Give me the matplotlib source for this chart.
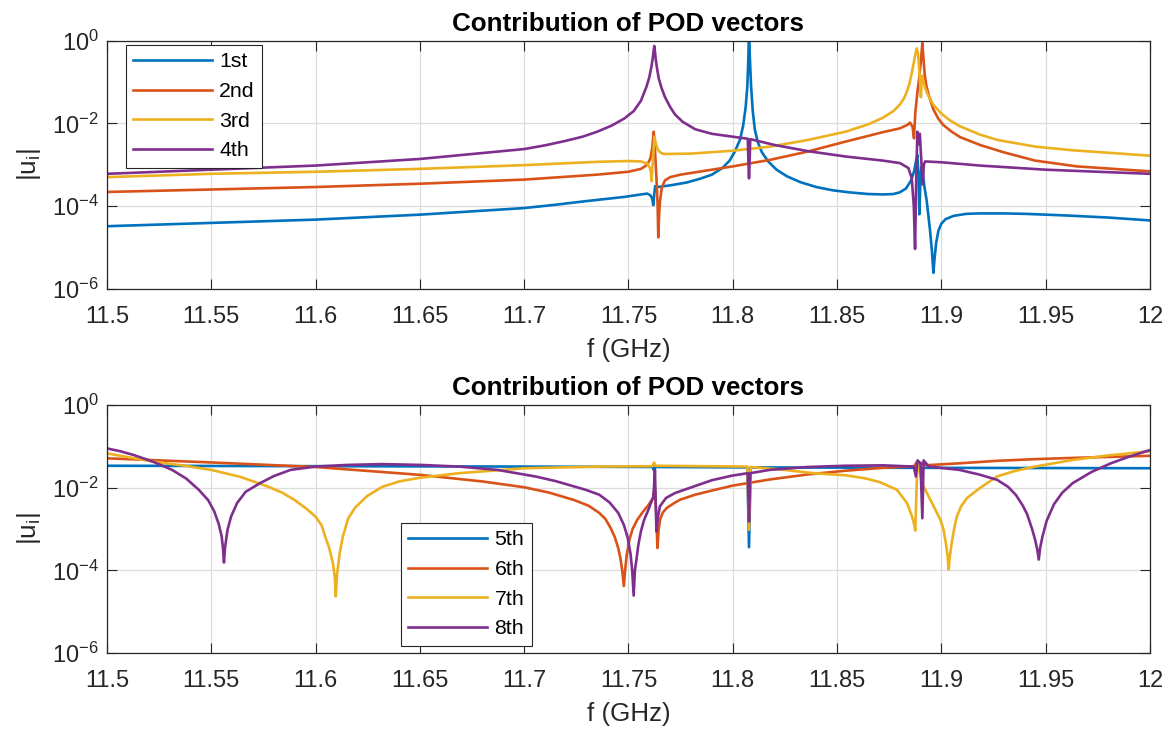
import matplotlib
matplotlib.use("Agg")
import matplotlib.pyplot as plt

plt.rcParams["font.family"] = "Liberation Sans"
plt.rcParams["mathtext.fontset"] = "custom"
plt.rcParams["mathtext.rm"] = "Liberation Sans"
plt.rcParams["mathtext.it"] = "Liberation Sans:italic"

# ====================================================================
# Data: frequency in GHz, and log10|u_i| as read
# on the decade axis (converted to |u_i| just before plotting)
# ====================================================================
f1 = [11.500, 11.550, 11.600, 11.650, 11.700, 11.715, 11.730, 11.748, 11.756, 11.759,
      11.7605, 11.7614, 11.7619, 11.7624, 11.7628, 11.7640, 11.7700, 11.7780, 11.7843, 11.7900,
      11.7950, 11.7985, 11.8010, 11.8035, 11.8050, 11.8062, 11.8070, 11.8075, 11.8078, 11.8082,
      11.8088, 11.8096, 11.8106, 11.8120, 11.8140, 11.8170, 11.8210, 11.8260, 11.8323, 11.8400,
      11.8480, 11.8560, 11.8650, 11.8720, 11.8770, 11.8800, 11.8830, 11.8855, 11.8870, 11.8880,
      11.8885, 11.8890, 11.8895, 11.8900, 11.8905, 11.8910, 11.8918, 11.8930, 11.8946, 11.8955,
      11.8962, 11.8967, 11.8975, 11.8986, 11.9000, 11.9020, 11.9058, 11.9120, 11.9185, 11.9300,
      11.9400, 11.9600, 11.9800, 12.0000]
lg1 = [-4.49, -4.41, -4.33, -4.21, -4.05, -3.97, -3.88, -3.78, -3.72, -3.70,
       -3.74, -3.82, -3.98, -3.70, -3.52, -3.54, -3.50, -3.43, -3.34, -3.24,
       -3.08, -2.90, -2.68, -2.39, -2.05, -1.60, -1.10, -0.40, 0.30, -0.40,
       -1.10, -1.70, -2.15, -2.45, -2.70, -2.92, -3.12, -3.28, -3.42, -3.54,
       -3.62, -3.67, -3.71, -3.72, -3.71, -3.67, -3.58, -3.38, -3.15, -2.88,
       -2.76, -3.20, -4.20, -3.30, -3.05, -3.15, -3.50, -3.88, -4.60, -5.10,
       -5.62, -5.30, -4.90, -4.60, -4.43, -4.32, -4.24, -4.19, -4.18, -4.18,
       -4.19, -4.23, -4.28, -4.35]

f2 = [11.500, 11.550, 11.600, 11.650, 11.700, 11.735, 11.750, 11.756, 11.759, 11.7605,
      11.7614, 11.7621, 11.7625, 11.7630, 11.7636, 11.7640, 11.7643, 11.7647, 11.7651, 11.7660,
      11.7675, 11.7700, 11.7750, 11.7800, 11.7900, 11.8000, 11.8180, 11.8360, 11.8540, 11.8650,
      11.8720, 11.8800, 11.8835, 11.8850, 11.8862, 11.8869, 11.8875, 11.8885, 11.8895, 11.8903,
      11.8909, 11.8914, 11.8920, 11.8928, 11.8940, 11.8962, 11.8985, 11.9010, 11.9050, 11.9090,
      11.9185, 11.9300, 11.9450, 11.9650, 12.0000]
lg2 = [-3.66, -3.60, -3.54, -3.46, -3.36, -3.24, -3.17, -3.10, -3.00, -2.85,
       -2.60, -2.20, -2.45, -2.90, -3.50, -4.00, -4.76, -4.20, -3.90, -3.55,
       -3.38, -3.30, -3.24, -3.20, -3.12, -3.04, -2.88, -2.68, -2.44, -2.30,
       -2.21, -2.12, -2.04, -1.98, -2.08, -2.36, -1.75, -1.25, -0.85, -0.42,
       -0.05, -0.40, -0.80, -1.08, -1.32, -1.66, -1.88, -2.04, -2.20, -2.33,
       -2.52, -2.70, -2.90, -3.04, -3.16]

f3 = [11.500, 11.550, 11.600, 11.650, 11.700, 11.735, 11.750, 11.756, 11.759, 11.7603,
      11.7608, 11.7611, 11.7615, 11.7619, 11.7624, 11.7630, 11.7637, 11.7643, 11.7655, 11.7670,
      11.7800, 11.8000, 11.8180, 11.8360, 11.8540, 11.8650, 11.8720, 11.8770, 11.8800, 11.8820,
      11.8834, 11.8848, 11.8858, 11.8867, 11.8874, 11.8882, 11.8888, 11.8893, 11.8898, 11.8902,
      11.8905, 11.8908, 11.8914, 11.8922, 11.8935, 11.8962, 11.9000, 11.9040, 11.9086, 11.9185,
      11.9270, 11.9450, 11.9630, 12.0000]
lg3 = [-3.30, -3.22, -3.17, -3.10, -3.01, -2.93, -2.91, -2.92, -2.97, -3.08,
       -3.20, -3.40, -3.05, -2.75, -2.32, -2.45, -2.58, -2.65, -2.71, -2.74,
       -2.73, -2.66, -2.56, -2.40, -2.20, -2.02, -1.86, -1.70, -1.55, -1.40,
       -1.24, -1.02, -0.78, -0.55, -0.36, -0.18, -0.30, -0.60, -0.98, -1.36,
       -1.00, -0.84, -0.98, -1.13, -1.30, -1.55, -1.76, -1.92, -2.06, -2.27,
       -2.40, -2.56, -2.65, -2.78]

f4 = [11.500, 11.550, 11.600, 11.650, 11.700, 11.710, 11.720, 11.728, 11.735, 11.742,
      11.748, 11.7525, 11.7560, 11.7587, 11.7600, 11.7611, 11.7617, 11.7621, 11.7624, 11.7627,
      11.7631, 11.7637, 11.7645, 11.7658, 11.7675, 11.7700, 11.7723, 11.7760, 11.7820, 11.7900,
      11.8000, 11.8072, 11.8075, 11.8078, 11.8081, 11.8084, 11.8200, 11.8360, 11.8540, 11.8720,
      11.8802, 11.8842, 11.8858, 11.8868, 11.8874, 11.8879, 11.8885, 11.8891, 11.8897, 11.8905,
      11.8911, 11.8916, 11.8922, 11.9000, 11.9185, 11.9500, 12.0000]
lg4 = [-3.22, -3.12, -3.02, -2.86, -2.62, -2.53, -2.42, -2.32, -2.20, -2.05,
       -1.88, -1.70, -1.45, -1.10, -0.88, -0.60, -0.40, -0.22, -0.12, -0.25,
       -0.45, -0.66, -0.90, -1.13, -1.36, -1.60, -1.78, -1.96, -2.14, -2.25,
       -2.32, -2.37, -2.90, -3.33, -2.90, -2.38, -2.52, -2.67, -2.80, -2.90,
       -2.96, -3.08, -3.32, -4.00, -5.04, -3.50, -2.20, -2.50, -2.25, -3.00,
       -3.48, -3.00, -2.92, -2.94, -3.02, -3.12, -3.22]

f5 = [11.500, 11.600, 11.700, 11.7615, 11.7622, 11.7630, 11.8070, 11.8078, 11.8086, 11.8870,
      11.8878, 11.8886, 11.8904, 11.8910, 11.8916, 12.0000]
lg5 = [-1.47, -1.48, -1.49, -1.50, -1.58, -1.50, -1.51, -3.44, -1.51, -1.52,
       -1.62, -1.52, -1.52, -1.58, -1.52, -1.53]

f6 = [11.500, 11.550, 11.600, 11.650, 11.680, 11.700, 11.712, 11.7240, 11.7310, 11.7360,
      11.7390, 11.7415, 11.7435, 11.7451, 11.7462, 11.7470, 11.7478, 11.7484, 11.7492, 11.7505,
      11.7520, 11.7542, 11.7570, 11.7596, 11.7618, 11.7626, 11.7633, 11.7639, 11.7645, 11.7652,
      11.7665, 11.7684, 11.7720, 11.7748, 11.7820, 11.7908, 11.8000, 11.8180, 11.8360, 11.8540,
      11.8720, 11.8870, 11.8882, 11.8890, 11.8905, 11.8920, 11.9090, 11.9270, 11.9450, 11.9630,
      12.0000]
lg6 = [-1.29, -1.39, -1.50, -1.69, -1.85, -1.99, -2.12, -2.30, -2.44, -2.61,
       -2.76, -2.98, -3.20, -3.46, -3.72, -4.00, -4.38, -4.00, -3.62, -3.25,
       -3.00, -2.78, -2.58, -2.42, -2.25, -1.95, -2.60, -3.46, -3.00, -2.77,
       -2.60, -2.49, -2.37, -2.29, -2.17, -2.06, -1.95, -1.80, -1.68, -1.59,
       -1.52, -1.48, -1.38, -1.50, -1.40, -1.46, -1.41, -1.35, -1.31, -1.28,
       -1.23]

f7 = [11.500, 11.511, 11.522, 11.536, 11.550, 11.564, 11.577, 11.584, 11.590, 11.5954,
      11.600, 11.6030, 11.6046, 11.6065, 11.6083, 11.6092, 11.6097, 11.6103, 11.6116, 11.6130,
      11.6156, 11.6190, 11.6248, 11.6320, 11.6400, 11.6500, 11.6688, 11.7000, 11.7360, 11.7615,
      11.7623, 11.7630, 11.8070, 11.8078, 11.8086, 11.8228, 11.8388, 11.8540, 11.8640, 11.8707,
      11.8787, 11.8835, 11.8859, 11.8868, 11.8875, 11.8883, 11.8888, 11.8896, 11.8907, 11.8931,
      11.8963, 11.8995, 11.9010, 11.9022, 11.9030, 11.9035, 11.9041, 11.9051, 11.9063, 11.9075,
      11.9095, 11.9123, 11.9187, 11.9267, 11.9350, 11.9449, 11.9630, 11.9800, 12.0000]
lg7 = [-1.17, -1.27, -1.37, -1.46, -1.57, -1.74, -1.97, -2.12, -2.30, -2.50,
       -2.70, -2.92, -3.18, -3.45, -3.82, -4.15, -4.63, -4.10, -3.58, -3.20,
       -2.75, -2.48, -2.20, -1.98, -1.85, -1.76, -1.65, -1.53, -1.49, -1.48,
       -1.39, -1.47, -1.49, -3.02, -1.50, -1.56, -1.65, -1.70, -1.78, -1.87,
       -2.05, -2.37, -2.69, -2.85, -3.04, -1.73, -1.36, -1.56, -1.89, -2.13,
       -2.45, -2.77, -3.00, -3.35, -3.65, -3.98, -3.65, -3.30, -2.95, -2.69,
       -2.45, -2.25, -2.00, -1.73, -1.60, -1.49, -1.33, -1.22, -1.12]

f8 = [11.500, 11.5065, 11.5128, 11.5220, 11.5312, 11.5380, 11.5440, 11.5485, 11.5514, 11.5536,
      11.5550, 11.5556, 11.5561, 11.5566, 11.5578, 11.5595, 11.5624, 11.5665, 11.5734, 11.5800,
      11.5880, 11.6000, 11.6150, 11.6321, 11.6505, 11.6688, 11.6872, 11.7055, 11.7150, 11.7239,
      11.7300, 11.7360, 11.7410, 11.7451, 11.7478, 11.7496, 11.7510, 11.7518, 11.7525, 11.7531,
      11.7538, 11.7547, 11.7560, 11.7575, 11.7596, 11.7620, 11.7627, 11.7634, 11.7642, 11.7651,
      11.7680, 11.7723, 11.7814, 11.7900, 11.7996, 11.8072, 11.8078, 11.8084, 11.8177, 11.8359,
      11.8540, 11.8722, 11.8868, 11.8878, 11.8886, 11.8900, 11.8909, 11.8915, 11.8940, 11.9086,
      11.9180, 11.9267, 11.9320, 11.9358, 11.9390, 11.9412, 11.9435, 11.9449, 11.9460, 11.9467,
      11.9474, 11.9485, 11.9505, 11.9540, 11.9580, 11.9630, 11.9720, 11.9813, 11.9900, 12.0000]
lg8 = [-1.05, -1.12, -1.21, -1.37, -1.57, -1.78, -2.05, -2.30, -2.57, -2.88,
       -3.18, -3.45, -3.81, -3.45, -3.02, -2.70, -2.37, -2.10, -1.89, -1.72,
       -1.57, -1.49, -1.45, -1.43, -1.45, -1.49, -1.57, -1.73, -1.84, -1.97,
       -2.06, -2.17, -2.36, -2.61, -2.90, -3.20, -3.60, -4.00, -4.61, -4.00,
       -3.75, -3.40, -3.05, -2.78, -2.53, -2.21, -1.57, -3.06, -2.70, -2.45,
       -2.25, -2.13, -1.97, -1.82, -1.71, -1.65, -2.82, -1.65, -1.57, -1.50,
       -1.47, -1.46, -1.49, -1.73, -1.34, -1.41, -2.74, -1.34, -1.49, -1.57,
       -1.68, -1.81, -1.98, -2.18, -2.43, -2.65, -3.00, -3.25, -3.50, -3.74,
       -3.45, -3.18, -2.80, -2.40, -2.12, -1.89, -1.62, -1.41, -1.25, -1.09]

labels_top = ["1st", "2nd", "3rd", "4th"]
labels_bot = ["5th", "6th", "7th", "8th"]
xticks = [11.5, 11.55, 11.6, 11.65, 11.7, 11.75, 11.8, 11.85, 11.9, 11.95, 12.0]
xticklabels = ["11.5", "11.55", "11.6", "11.65", "11.7", "11.75", "11.8", "11.85", "11.9", "11.95", "12"]
yticks = [1e-6, 1e-4, 1e-2, 1e0]
yticklabels = [r"$\mathregular{10^{-6}}$", r"$\mathregular{10^{-4}}$",
               r"$\mathregular{10^{-2}}$", r"$\mathregular{10^{0}}$"]

colors = ["#0072BD", "#D95319", "#EDB120", "#7E2F8E"]
AX_COLOR = "#262626"
LW = 1.9


def style_axes(ax):
    ax.set_yscale("log")
    ax.set_xlim(11.5, 12.0)
    ax.set_ylim(1e-6, 1e0)
    ax.set_xticks(xticks)
    ax.set_xticklabels(xticklabels)
    ax.set_yticks(yticks)
    ax.set_yticklabels(yticklabels)
    ax.minorticks_off()
    ax.tick_params(axis="both", which="major", direction="in", length=7, width=0.8,
                   top=True, right=True, labelsize=17, colors=AX_COLOR)
    ax.tick_params(axis="x", pad=12.5)
    ax.tick_params(axis="y", pad=6)
    ax.grid(True, color="#dcdcdc", linewidth=0.9)
    ax.set_axisbelow(True)
    for sp in ax.spines.values():
        sp.set_color(AX_COLOR)
        sp.set_linewidth(0.9)
    ax.set_title("Contribution of POD vectors", fontsize=18.7, fontweight="bold", pad=7.5)
    ax.set_xlabel("f (GHz)", fontsize=18.7, color=AX_COLOR, labelpad=7)
    ax.set_ylabel(r"|u$_\mathregular{i}$|", fontsize=18.7, color=AX_COLOR, labelpad=6)


fig = plt.figure(figsize=(11.74, 7.33), dpi=100)
ax1 = fig.add_axes([0.0911, 0.6064, 0.8884, 0.3377])
ax2 = fig.add_axes([0.0911, 0.1091, 0.8884, 0.3384])

# ---- atas: vektor 1-4
for f, lg, c, lab in zip([f1, f2, f3, f4], [lg1, lg2, lg3, lg4], colors, labels_top):
    ax1.plot(f, [10 ** v for v in lg], color=c, linewidth=LW, label=lab)
style_axes(ax1)

# ---- bawah: vektor 5-8
for f, lg, c, lab in zip([f5, f6, f7, f8], [lg5, lg6, lg7, lg8], colors, labels_bot):
    ax2.plot(f, [10 ** v for v in lg], color=c, linewidth=LW, label=lab)
style_axes(ax2)

for ax, anchor in [(ax1, (0.1069, 0.9386)), (ax2, (0.3416, 0.2865))]:
    leg = ax.legend(loc="upper left", bbox_to_anchor=anchor, bbox_transform=fig.transFigure,
                    fontsize=15.3, handlelength=3.7, handletextpad=0.35, labelspacing=0.5,
                    borderpad=0.35, borderaxespad=0, fancybox=False, framealpha=1)
    leg.get_frame().set_edgecolor(AX_COLOR)
    leg.get_frame().set_linewidth(0.8)

fig.savefig("out.png", dpi=100)
